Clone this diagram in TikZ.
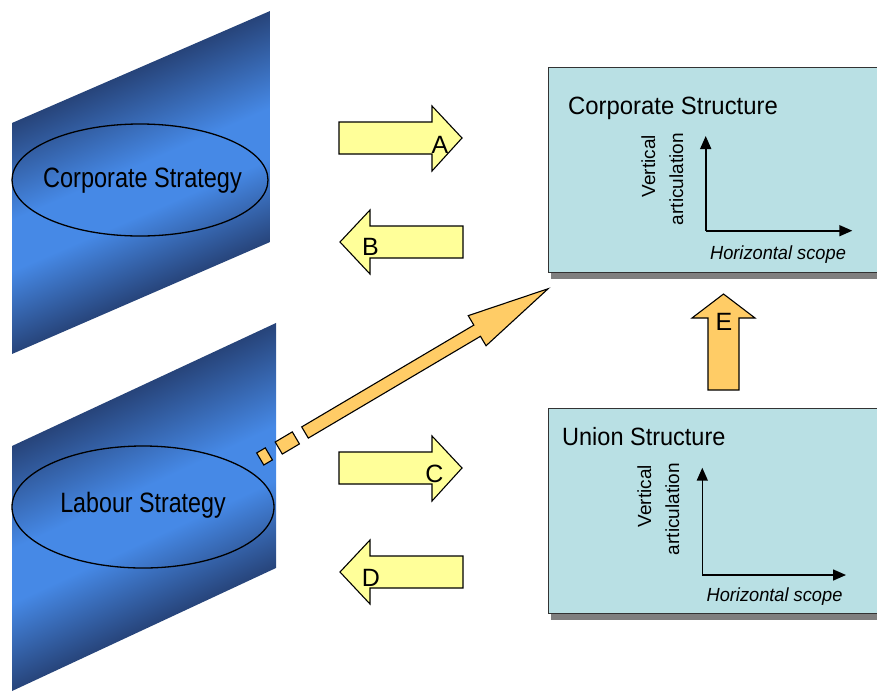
\documentclass[tikz,border=0pt]{standalone}
\usepackage{fontspec}
\setmainfont{Liberation Sans}
\usetikzlibrary{arrows.meta,shapes.geometric}
\definecolor{bluedark}{HTML}{27447A}
\definecolor{bluebright}{HTML}{4689E6}
\definecolor{boxfill}{HTML}{B9E0E4}
\definecolor{shadowgray}{HTML}{7F7F7F}
\definecolor{paleyellow}{HTML}{FFFF99}
\definecolor{orangefill}{HTML}{FFCC66}
\pgfdeclareverticalshading{panelband}{100bp}{color(0bp)=(bluedark); color(25bp)=(bluedark); color(43bp)=(bluebright); color(54bp)=(bluebright); color(75bp)=(bluedark); color(100bp)=(bluedark)}
\begin{document}
\begin{tikzpicture}[x=1pt,y=-1pt,
  blockarrow/.style={draw=black, line width=1.1pt, fill=paleyellow, line join=miter},
  orangearrow/.style={draw=black, line width=1.1pt, fill=orangefill, line join=miter},
  strategyellipse/.style={ellipse, draw=black, line width=1.3pt, inner sep=0pt},
  bigtext/.style={font=\fontsize{28}{32}\selectfont, inner sep=0pt},
  lettertext/.style={font=\fontsize{25}{30}\selectfont, inner sep=0pt, anchor=base},
  titletext/.style={font=\fontsize{25}{30}\selectfont, inner sep=0pt, anchor=base west},
  smalltext/.style={font=\fontsize{19}{23}\selectfont, inner sep=0pt},
  structbox/.style={draw=black!80, line width=1pt, fill=boxfill, minimum width=380pt, minimum height=205pt, anchor=north west, inner sep=0pt},
  boxshadow/.style={fill=shadowgray},
  axisline/.style={line width=1.6pt, -{Triangle[length=13pt,width=11pt]}}
]
\useasboundingbox (0,0) rectangle (877,691);

% --- blue slanted panels ---
\begin{scope}[transform canvas={yslant=0.434}]
  \shade[shading=panelband] (12,128.2) rectangle (270,359.2);
\end{scope}
\begin{scope}[transform canvas={yslant=0.466}]
  \shade[shading=panelband] (12,451.6) rectangle (276,696.6);
\end{scope}

% --- strategy ellipses ---
\node[strategyellipse, minimum width=256pt, minimum height=112pt] (corpell) at (140,180) {};
\node[bigtext] (corptext) at (142.5,180.5) {\scalebox{0.84}[1]{Corporate Strategy}};
\node[strategyellipse, minimum width=262pt, minimum height=122pt] (labell) at (143,507) {};
\node[bigtext] (labtext) at (143,505.4) {\scalebox{0.83}[1]{Labour Strategy}};

% --- structure boxes ---
\fill[boxshadow] (551,270) rectangle (900,279);
\fill[boxshadow] (551,611) rectangle (900,620);
\node[structbox] (corpbox) at (548,67) {};
\node[structbox] (unionbox) at (548,408) {};

\node[titletext] (corptitle) at (568,114) {\scalebox{0.955}[1]{Corporate Structure}};
\node[titletext] (uniontitle) at (562,445) {\scalebox{0.94}[1]{Union Structure}};

% axes top
\coordinate (co1) at (705.7,230.7);
\coordinate (cy1) at (705.7,136);
\coordinate (cx1) at (852.3,230.7);
\draw[axisline] (co1) -- (cy1);
\draw[axisline] (co1) -- (cx1);
\node[smalltext, rotate=90, anchor=base east] (vt1) at (655,135) {Vertical};
\node[smalltext, rotate=90, anchor=base east] (va1) at (683,133) {articulation};
\node[smalltext, anchor=base] (hs1) at (778,259.3) {\scalebox{0.96}[1]{\itshape Horizontal scope}};

% axes bottom
\coordinate (co2) at (702.3,575);
\coordinate (cy2) at (702.3,467.7);
\coordinate (cx2) at (846,575);
\draw[axisline] (co2) -- (cy2);
\draw[axisline] (co2) -- (cx2);
\node[smalltext, rotate=90, anchor=base east] (vt2) at (651,465) {Vertical};
\node[smalltext, rotate=90, anchor=base east] (va2) at (679,463) {articulation};
\node[smalltext, anchor=base] (hs2) at (774.5,601) {\scalebox{0.96}[1]{\itshape Horizontal scope}};

% --- block arrows ---
\draw[blockarrow] (339,122) -- (432,122) -- (432,106) -- (462,138) -- (432,171) -- (432,154) -- (339,154) -- cycle;
\node[lettertext] (la) at (440,153.3) {A};
\draw[blockarrow] (463,226) -- (370,226) -- (370,210) -- (340,242) -- (370,274) -- (370,258) -- (463,258) -- cycle;
\node[lettertext] (lb) at (370.5,255) {B};
\draw[blockarrow] (339,452) -- (432,452) -- (432,436) -- (462,468) -- (432,501) -- (432,484) -- (339,484) -- cycle;
\node[lettertext] (lc) at (434.5,482.5) {C};
\draw[blockarrow] (463,556) -- (370,556) -- (370,540) -- (340,572) -- (370,604) -- (370,588) -- (463,588) -- cycle;
\node[lettertext] (ld) at (371,586) {D};

\draw[orangearrow] (708,390) -- (708,318) -- (692,318) -- (723.5,294) -- (755,318) -- (739,318) -- (739,390) -- cycle;
\node[lettertext] (le) at (724,330.5) {E};

% --- big diagonal arrow with dashes ---
\begin{scope}[shift={(305,432.5)}, rotate=30.6]
  \draw[orangearrow] (0,-6.5) -- (200,-6.5) -- (200,-17.5) -- (282.5,0) -- (200,17.5) -- (200,6.5) -- (0,6.5) -- cycle;
  \draw[orangearrow] (-30.5,-7) rectangle (-10.6,7);
  \draw[orangearrow] (-52,-7) rectangle (-42,7);
\end{scope}
\end{tikzpicture}
\end{document}
